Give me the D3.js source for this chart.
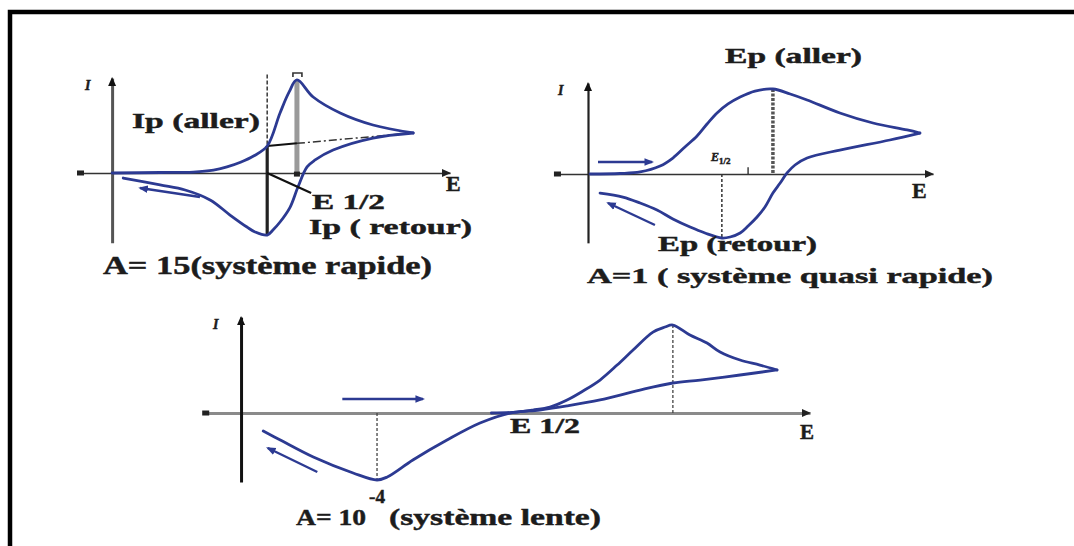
<!DOCTYPE html>
<html>
<head>
<meta charset="utf-8">
<script src="https://cdn.jsdelivr.net/npm/d3@7"></script>
<style>
  body { margin: 0; background: #fff; }
  svg { display: block; }
  text { font-family: "Liberation Serif", "Times New Roman", serif; font-weight: bold; fill: #1c1c1c;
         stroke: #1c1c1c; stroke-width: 0.45px; }
</style>
</head>
<body>
<svg id="chart" width="1074" height="546"></svg>
<script>
// Cyclic voltammograms for three values of the reversibility parameter A.
// Potential E and current i are in arbitrary units: E = 0 at the current axis,
// i = 100 at the anodic peak of each curve.

// A = 15 : fast system
const fastForward = [[0,0],[14.2,0.5],[24,1],[30,3],[34,6.5],[38,11.5],[42,18.5],[45.9,29],[49.7,64.5],[52.4,87.1],[54.7,100],
  [59.5,81.7],[67.5,64.5],[77.2,51.6],[89.1,43]];
const fastReturn = [[89.1,43],[77.2,37.6],[65.4,24.7],[60.1,14],[57.7,6.5],[55,-15.1],[52.7,-36.6],[49.7,-52.7],[47.6,-61.3],
  [45.9,-66.7],[42.3,-63.4],[39.9,-58.1],[34.9,-45.2],[29,-29],[21.6,-18.3],[14.2,-12.9],[3.3,-5.4]];

// A = 1 : quasi-fast system
const quasiForward = [[0.6,0],[9.3,0.6],[15.1,2.4],[20.9,9.4],[24.6,18.8],[28.1,31.8],[31.6,44.7],[34.5,58.8],[37.4,71.8],
  [40.6,82.4],[44.1,90.6],[48.4,97.6],[53.6,100],[58.6,94.1],[63.5,87.1],[73,71.8],[82.6,60],[92.5,51.8],[96.2,48.2]];
const quasiReturn = [[96.2,48.2],[87.5,40],[73,28.2],[63.5,18.8],[60,10.6],[57.7,1.2],[55.7,-10.6],[53.6,-22.4],[51.3,-38.8],
  [49,-50.6],[46.4,-61.2],[44.1,-69.4],[41.2,-74.1],[38.8,-75.3],[33.9,-69.4],[29.6,-62.4],[24.6,-52.9],[20,-42.4],
  [15.1,-34.1],[10.1,-27.1],[3.5,-22.4]];
const quasiHalfWave = 46.4;

// A = 1e-4 : slow system (the forward scan lies on the E axis until about E = 44)
const slowForward = [[44,0],[48.5,1.1],[51.3,3.4],[54.3,6.8],[57.3,14.8],[60.1,25],[63.1,37.5],[66.1,54.5],[68.9,71.6],
  [72.4,92],[74.5,97.7],[75.9,100],[78.9,88.6],[81.9,79.5],[84.2,69.3],[87.7,60.2],[91.2,54.5],[94.2,48.9]];
const slowReturn = [[94.2,48.9],[87.7,43.2],[80.7,37.5],[75.9,34.1],[70.1,26.1],[63.1,14.8],[57.3,8],[52.5,3.4],[47.3,0],
  [42,-11.4],[36.2,-30.7],[30.2,-53.4],[25.7,-72.7],[23.9,-76.1],[19.7,-68.2],[12.7,-50],[6.9,-30.7],[3.9,-20.5]];

// Scan direction arrows [[E,i] tail, [E,i] head]
const fastScanBack = [[26,-25.8],[8.3,-16.1]];
const quasiScanOut = [[2.9,14.1],[18.6,14.1]];
const quasiScanBack = [[19.4,-60],[5.8,-34.1]];
const slowScanOut = [[17.8,15.9],[32,15.9]];
const slowScanBack = [[13.4,-67],[4.7,-39.8]];

// Text
const titles = ["A= 15(système rapide)", "A=1 ( système quasi rapide)", "A= 10", "-4", "(système lente)"];
const fastLabels = ["Ip (aller)", "E 1/2", "Ip ( retour)"];
const quasiLabels = ["Ep (aller)", "Ep (retour)"];
const slowLabels = ["E 1/2"];
const axisNames = ["I", "E"];

const svg = d3.select("#chart");
const ink = "#2c3a92";

// outer frame
svg.append("rect").attr("x", 10).attr("y", 12).attr("width", 1200).attr("height", 700)
  .attr("fill", "none").attr("stroke", "#000").attr("stroke-width", 4.5);

const defs = svg.append("defs");
defs.append("marker").attr("id", "scanHead").attr("viewBox", "0 0 10 10").attr("refX", 8).attr("refY", 5)
  .attr("markerWidth", 4).attr("markerHeight", 4).attr("orient", "auto")
  .append("path").attr("d", "M0,1 L10,5 L0,9 Z").attr("fill", ink);

function makeLine(x, y, curve) {
  return d3.line().x(d => x(d[0])).y(d => y(d[1])).curve(curve || d3.curveCatmullRom.alpha(0.5));
}

function label(g, txt, x, y, size, len, extra) {
  const t = g.append("text").attr("x", x).attr("y", y).attr("font-size", size).text(txt);
  if (len) t.attr("textLength", len).attr("lengthAdjust", "spacingAndGlyphs");
  if (extra) extra(t);
  return t;
}

function panel(opt) {
  const g = svg.append("g");
  const x = d3.scaleLinear().domain(opt.xDomain).range(opt.xRange);
  const y = d3.scaleLinear().domain(opt.yDomain).range(opt.yRange);

  // axes without ticks, drawn with d3-axis
  const xa = g.append("g").attr("transform", `translate(0,${y(0)})`)
    .call(d3.axisBottom(x).tickValues([]).tickSizeOuter(0));
  xa.select(".domain").attr("stroke", opt.xAxisColor).attr("stroke-width", opt.xAxisWidth);
  const ya = g.append("g").attr("transform", `translate(${x(0)},0)`)
    .call(d3.axisLeft(y).tickValues([]).tickSizeOuter(0));
  ya.select(".domain").attr("stroke", opt.yAxisColor).attr("stroke-width", opt.yAxisWidth);

  const [x0, x1] = opt.xRange, yTop = opt.yRange[1];
  // axis arrowheads
  g.append("path").attr("d", `M${x(0) - 4},${yTop + 8} L${x(0)},${yTop - 1} L${x(0) + 4},${yTop + 8} Z`).attr("fill", "#111");
  g.append("path").attr("d", `M${x1 - 8},${y(0) - 4} L${x1 + 1},${y(0)} L${x1 - 8},${y(0) + 4} Z`).attr("fill", "#222");
  // origin marker at left end of the potential axis
  g.append("rect").attr("x", x0 - 3).attr("y", y(0) - 2.5).attr("width", 7).attr("height", 5).attr("fill", "#222");

  // axis names
  label(g, axisNames[0], x(0) - opt.iOffset, yTop + 12, 14, null, t => t.attr("font-style", "italic"));
  label(g, axisNames[1], opt.eLabel[0], opt.eLabel[1], opt.eLabel[2]);

  opt.under && opt.under(g, x, y);

  const line = makeLine(x, y);
  [opt.forward, opt.back].forEach(d => {
    g.append("path").datum(d).attr("d", line).attr("fill", "none")
      .attr("stroke", ink).attr("stroke-width", 2.8).attr("stroke-linejoin", "round").attr("stroke-linecap", "round");
  });

  opt.scans.forEach(s => {
    g.append("path").datum(s).attr("d", makeLine(x, y, d3.curveLinear)).attr("fill", "none")
      .attr("stroke", ink).attr("stroke-width", 2.4).attr("marker-end", "url(#scanHead)");
  });

  opt.over && opt.over(g, x, y);
  return g;
}

function peakOf(data) { return data.reduce((a, b) => (b[1] > a[1] ? b : a)); }
function troughOf(data) { return data.reduce((a, b) => (b[1] < a[1] ? b : a)); }

// ---------- A = 15 ----------
panel({
  xDomain: [-9.5, 100], xRange: [80, 450],
  yDomain: [-75, 102], yRange: [242.75, 78.1],
  xAxisColor: "#333", xAxisWidth: 1.4, yAxisColor: "#555", yAxisWidth: 3, iOffset: 27,
  eLabel: [446, 191, 22],
  forward: fastForward, back: fastReturn, scans: [fastScanBack],
  under: (g, x, y) => {
    const pk = peakOf(fastForward), tr = troughOf(fastReturn);
    const foot = fastForward[7];
    // dashed guide above the cathodic peak potential
    g.append("line").attr("x1", x(tr[0])).attr("x2", x(tr[0])).attr("y1", y(106)).attr("y2", y(foot[1]))
      .attr("stroke", "#444").attr("stroke-width", 1.6).attr("stroke-dasharray", "4,2");
    // cathodic peak current bar
    g.append("line").attr("x1", x(tr[0])).attr("x2", x(tr[0])).attr("y1", y(foot[1])).attr("y2", y(tr[1]))
      .attr("stroke", "#222").attr("stroke-width", 3.2);
    // anodic peak current bar
    g.append("line").attr("x1", x(pk[0])).attr("x2", x(pk[0])).attr("y1", y(pk[1])).attr("y2", y(0))
      .attr("stroke", "#9a9a9a").attr("stroke-width", 5);
    g.append("rect").attr("x", x(pk[0]) - 3).attr("y", y(1.5)).attr("width", 6).attr("height", 5).attr("fill", "#222");
    g.append("path").attr("d", `M${x(pk[0]) - 4},${y(pk[1]) - 3} L${x(pk[0]) - 4},${y(pk[1]) - 7} L${x(pk[0]) + 5},${y(pk[1]) - 7} L${x(pk[0]) + 5},${y(pk[1]) - 3}`)
      .attr("fill", "none").attr("stroke", "#333").attr("stroke-width", 1.6);
    // extrapolated baseline of the return scan
    const sw = fastForward[fastForward.length - 1];
    const mid = [pk[0], foot[1] + (sw[1] - foot[1]) * (pk[0] - tr[0]) / (sw[0] - tr[0])];
    g.append("line").attr("x1", x(tr[0])).attr("y1", y(foot[1])).attr("x2", x(mid[0])).attr("y2", y(mid[1]))
      .attr("stroke", "#111").attr("stroke-width", 2);
    g.append("line").attr("x1", x(mid[0])).attr("y1", y(mid[1])).attr("x2", x(sw[0])).attr("y2", y(sw[1]))
      .attr("stroke", "#333").attr("stroke-width", 1.5).attr("stroke-dasharray", "8,3,2,3");
  },
  over: (g, x, y) => {
    const tr = troughOf(fastReturn);
    // pointer to the half-wave potential
    g.append("line").attr("x1", x(tr[0])).attr("y1", y(0)).attr("x2", x(58.9)).attr("y2", y(-21.5))
      .attr("stroke", "#111").attr("stroke-width", 2.2);
    label(g, fastLabels[0], 132, 128, 22, 128);
    label(g, fastLabels[1], 312, 209, 22, 73);
    label(g, fastLabels[2], 309, 234, 22, 163);
    label(g, titles[0], 103, 274, 25, 329);
  }
});

// ---------- A = 1 ----------
panel({
  xDomain: [-9, 100], xRange: [556.95, 933],
  yDomain: [-81, 107], yRange: [242.85, 83.05],
  xAxisColor: "#333", xAxisWidth: 1.4, yAxisColor: "#222", yAxisWidth: 2.2, iOffset: 30,
  eLabel: [912, 198, 22],
  forward: quasiForward, back: quasiReturn, scans: [quasiScanOut, quasiScanBack],
  under: (g, x, y) => {
    const pk = peakOf(quasiForward), tr = troughOf(quasiReturn);
    g.append("line").attr("x1", x(pk[0])).attr("x2", x(pk[0])).attr("y1", y(pk[1])).attr("y2", y(0))
      .attr("stroke", "#555").attr("stroke-width", 3.5).attr("stroke-dasharray", "3,1.5");
    g.append("line").attr("x1", x(tr[0])).attr("x2", x(tr[0])).attr("y1", y(0)).attr("y2", y(tr[1]))
      .attr("stroke", "#333").attr("stroke-width", 1.5).attr("stroke-dasharray", "3,2");
    g.append("line").attr("x1", x(quasiHalfWave)).attr("x2", x(quasiHalfWave)).attr("y1", y(0)).attr("y2", y(8))
      .attr("stroke", "#222").attr("stroke-width", 1.3);
  },
  over: (g, x, y) => {
    const e = g.append("text").attr("x", 711).attr("y", 161).attr("font-size", 12);
    e.append("tspan").attr("font-style", "italic").text("E");
    e.append("tspan").attr("font-size", 9).attr("dy", 3).text("1/2");
    label(g, quasiLabels[0], 725, 63, 21, 137);
    label(g, quasiLabels[1], 658, 251, 21, 159);
    label(g, titles[1], 587, 283, 22, 406);
  }
});

// ---------- A = 1e-4 ----------
panel({
  xDomain: [-6.3, 100], xRange: [205.2, 810],
  yDomain: [-78.4, 109], yRange: [482, 317.1],
  xAxisColor: "#8a8a8a", xAxisWidth: 3, yAxisColor: "#111", yAxisWidth: 3, iOffset: 28,
  eLabel: [800, 439, 21],
  forward: slowForward, back: slowReturn, scans: [slowScanOut, slowScanBack],
  under: (g, x, y) => {
    const pk = peakOf(slowForward), tr = troughOf(slowReturn);
    g.append("line").attr("x1", x(pk[0])).attr("x2", x(pk[0])).attr("y1", y(pk[1])).attr("y2", y(0))
      .attr("stroke", "#444").attr("stroke-width", 1.3).attr("stroke-dasharray", "3,2");
    g.append("line").attr("x1", x(tr[0])).attr("x2", x(tr[0])).attr("y1", y(0)).attr("y2", y(tr[1]))
      .attr("stroke", "#444").attr("stroke-width", 1.3).attr("stroke-dasharray", "3,2");
  },
  over: (g, x, y) => {
    label(g, slowLabels[0], 510, 433, 20, 70);
    label(g, titles[2], 296, 525, 24, 70);
    label(g, titles[3], 369, 503, 18, 16);
    label(g, titles[4], 389, 525, 24, 212);
  }
});
</script>
</body>
</html>
